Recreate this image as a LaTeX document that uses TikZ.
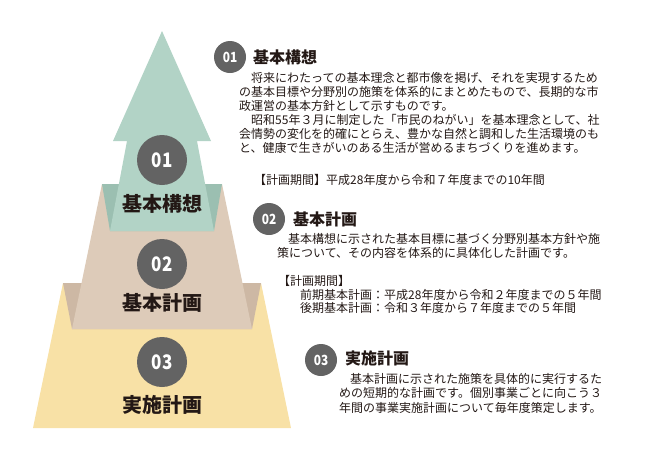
\documentclass[tikz,border=0pt]{standalone}
\usepackage{fontspec}
\setmainfont{Noto Sans CJK JP}
\XeTeXlinebreaklocale "ja"
\XeTeXlinebreakskip=0pt plus 4pt
\definecolor{grnL}{HTML}{B2D3C6}
\definecolor{grnD}{HTML}{9BBFB1}
\definecolor{bgeL}{HTML}{DDCBB9}
\definecolor{bgeD}{HTML}{CDB8A4}
\definecolor{ylw}{HTML}{F8E1A6}
\definecolor{cgray}{HTML}{636363}
\definecolor{txt}{HTML}{231815}
\newcommand\jline[2]{\makebox[#1][s]{#2}}
\tikzset{
  bigcirc/.style={circle, fill=cgray, minimum size=50pt, inner sep=0pt, text=white, font=\bfseries\fontsize{20}{20}\selectfont},
  smallcirc/.style={circle, fill=cgray, minimum size=32pt, inner sep=0pt, text=white, font=\bfseries\fontsize{14}{14}\selectfont},
  biglabel/.style={inner sep=0pt, text=txt, font=\bfseries\fontsize{20}{20}\selectfont},
  title/.style={anchor=west, inner sep=0pt, text=txt, font=\bfseries\fontsize{16}{16}\selectfont},
  body/.style={anchor=west, inner sep=0pt, text=txt, font=\fontsize{12}{12}\selectfont},
}
\begin{document}
\begin{tikzpicture}[x=1pt,y=-1pt]
\useasboundingbox (0,0) rectangle (650,459);
% pyramid
\fill[ylw] (63,283) -- (261,283) -- (291,428) -- (33,428) -- cycle;
\fill[bgeD] (63,283) -- (261,283) -- (252,329) -- (72,329) -- cycle;
\fill[bgeL] (102,184) -- (222,184) -- (252,329) -- (72,329) -- cycle;
\fill[grnD] (102,184) -- (222,184) -- (214,231) -- (110,231) -- cycle;
\fill[grnL] (162,31) -- (211,141) -- (197,141) -- (214,231) -- (110,231) -- (127,141) -- (113,141) -- cycle;
% pyramid circles and labels
\node[bigcirc] (c1) at (162,160) {\scalebox{0.85}[1]{01}};
\node[bigcirc] (c2) at (162,264) {\scalebox{0.85}[1]{02}};
\node[bigcirc] (c3) at (162,362) {\scalebox{0.85}[1]{03}};
\node[biglabel] (l1) at (162,204) {基本構想};
\node[biglabel] (l2) at (162,303) {基本計画};
\node[biglabel] (l3) at (162,405) {実施計画};
% section 01
\node[smallcirc] (s1) at (230,57) {\scalebox{0.85}[1]{01}};
\node[title] (t1) at (253,57) {基本構想};
\node[body] (a1) at (239,78) {\jline{367pt}{　将来にわたっての基本理念と都市像を掲げ、それを実現するため}};
\node[body] (a2) at (239,92) {\jline{367pt}{の基本目標や分野別の施策を体系的にまとめたもので、長期的な市}};
\node[body] (a3) at (239,106) {政運営の基本方針として示すものです。};
\node[body] (a4) at (239,120) {\jline{367pt}{　昭和55年３月に制定した「市民のねがい」を基本理念として、社}};
\node[body] (a5) at (239,134) {\jline{367pt}{会情勢の変化を的確にとらえ、豊かな自然と調和した生活環境のも}};
\node[body] (a6) at (239,148) {と、健康で生きがいのある生活が営めるまちづくりを進めます。};
\node[body] (a7) at (254,180) {【計画期間】平成28年度から令和７年度までの10年間};
% section 02
\node[smallcirc] (s2) at (269,219) {\scalebox{0.85}[1]{02}};
\node[title] (t2) at (293,219) {基本計画};
\node[body] (b1) at (276,239) {\jline{332pt}{　基本構想に示された基本目標に基づく分野別基本方針や施}};
\node[body] (b2) at (277,253) {策について、その内容を体系的に具体化した計画です。};
\node[body] (b3) at (278,281) {【計画期間】};
\node[body] (b4) at (300,295) {前期基本計画：平成28年度から令和２年度までの５年間};
\node[body] (b5) at (300,308) {後期基本計画：令和３年度から７年度までの５年間};
% section 03
\node[smallcirc] (s3) at (321,360) {\scalebox{0.85}[1]{03}};
\node[title] (t3) at (345,358) {実施計画};
\node[body] (d1) at (338,379) {\jline{284pt}{　基本計画に示された施策を具体的に実行するた}};
\node[body] (d2) at (339,393) {\jline{276pt}{めの短期的な計画です。個別事業ごとに向こう３}};
\node[body] (d3) at (339,408) {年間の事業実施計画について毎年度策定します。};
\end{tikzpicture}
\end{document}
